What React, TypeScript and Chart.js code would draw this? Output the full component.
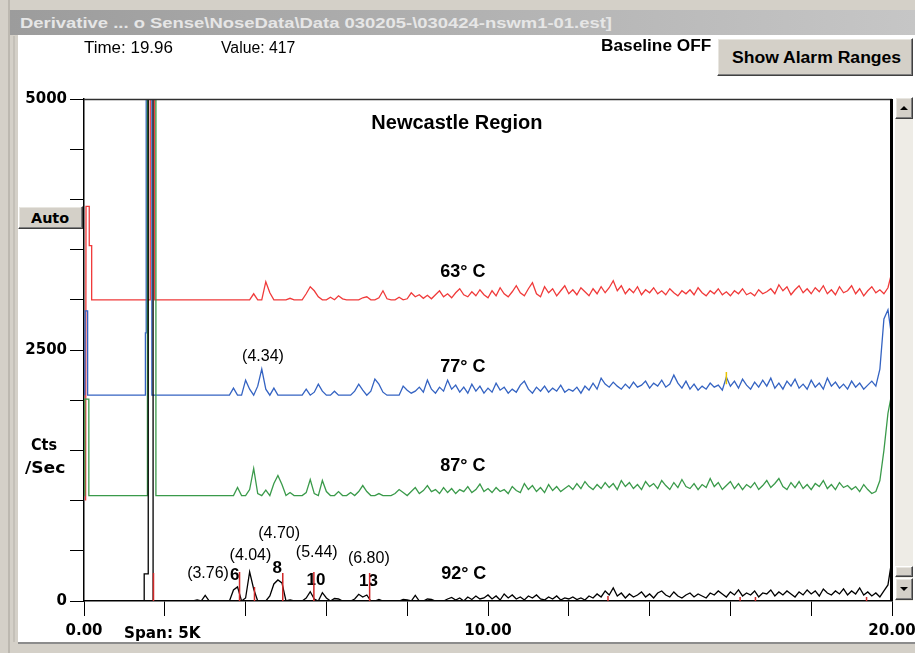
import React, { useEffect, useLayoutEffect, useRef } from "react";
import { Chart, registerables } from "chart.js";

Chart.register(...registerables);

// ---------- DATA ----------
// baseline (Cts/Sec) of each stacked trace
const RED_BASE = 3000;
const BLUE_BASE = 2050;
const GREEN_BASE = 1050;
const BLACK_BASE = 0;

// sampling grid of the main part of every trace (minutes)
const GRID_START = 2.0;
const GRID_STEP = 0.1;

// early part (injection + solvent peak): time / offset pairs
const redHeadTimes = [0.04, 0.05, 0.13, 0.13, 0.19, 0.19, 1.64, 1.64, 1.75, 1.75];
const redHeadValues = [-2000, 930, 930, 540, 540, 0, 0, 2300, 2300, 0];
const blueHeadTimes = [0.02, 0.03, 0.09, 0.09, 1.52, 1.52, 1.54, 1.54, 1.68, 1.68];
const blueHeadValues = [0, 840, 840, 0, 0, 620, 620, 3300, 3300, 0];
const greenHeadTimes = [0.01, 0.02, 0.12, 0.12, 1.57, 1.57, 1.78, 1.78];
const greenHeadValues = [0, 960, 960, 0, 0, 4300, 4300, 0];
const blackHeadTimes = [0, 1.49, 1.49, 1.59, 1.59, 1.71, 1.71];
const blackHeadValues = [0, 0, 270, 270, 5300, 5300, 0];

// 63 C trace, t = 2.0 ... 20.0 step 0.1
const redValues = [
  0, 0, 0, 0, 0, 0, 0, 0, 0, 0,
  0, 0, 0, 0, 0, 0, 0, 0, 0, 0,
  0, 0, 60, 0, 0, 180, 70, 0, 0, 0,
  0, 15, 0, 0, 0, 60, 130, 90, 30, 0,
  0, 25, 0, 40, 10, 0, 0, 0, 0, 20,
  30, 0, 0, 20, 90, 10, 0, 0, 25, 0,
  10, 70, 30, 50, 15, 45, 10, 50, 90, 30,
  60, 20, 70, 110, 50, 30, 80, 40, 100, 50,
  20, 90, 40, 120, 60, 30, 80, 140, 70, 40,
  110, 170, 60, 30, 130, 70, 110, 40, 90, 140,
  60, 100, 50, 120, 80, 40, 110, 60, 130, 70,
  120, 190, 90, 140, 60, 110, 70, 130, 50, 100,
  70, 120, 60, 90, 50, 110, 70, 40, 90, 60,
  100, 50, 120, 70, 40, 90, 60, 110, 50, 80,
  40, 90, 60, 110, 50, 70, 40, 100, 60, 80,
  110, 60, 150, 90, 130, 50, 100, 140, 70, 110,
  60, 120, 80, 140, 60, 100, 50, 130, 70, 90,
  140, 60, 110, 40, 90, 130, 70, 100, 60, 120,
  280,
];

// 77 C trace
const blueValues = [
  0, 0, 0, 0, 0, 0, 0, 0, 0, 0,
  0, 0, 0, 0, 0, 0, 0, 70, 0, 0,
  150, 60, 0, 90, 260, 60, 0, 70, 0, 0,
  0, 0, 0, 0, 0, 60, 0, 30, 110, 40,
  0, 0, 40, 0, 0, 0, 0, 40, 110, 50,
  0, 40, 160, 110, 30, 0, 0, 0, 0, 90,
  50, 20, 40, 80, 30, 150, 60, 20, 80, 40,
  150, 60, 100, 30, 80, 20, 110, 40, 90, 20,
  70, 30, 120, 50, 80, 20, 60, 30, 100, 140,
  60, 20, 80, 40, 90, 30, 70, 40, 100, 30,
  60, 40, 80, 20, 90, 50, 120, 60, 170, 110,
  80, 130, 90, 60, 110, 70, 130, 80, 100, 140,
  70, 120, 90, 150, 80, 110, 200, 120, 70, 140,
  60, 110, 50, 90, 60, 120, 80, 100, 50, 180,
  90, 140, 70, 160, 100, 60, 130, 80, 150, 90,
  170, 70, 120, 60, 140, 90, 160, 70, 110, 60,
  150, 80, 120, 60, 170, 90, 130, 70, 110, 60,
  140, 80, 120, 60, 100, 140, 90, 260, 760, 850,
  560,
];

// 87 C trace
const greenValues = [
  0, 0, 0, 0, 0, 0, 0, 0, 0, 0,
  0, 0, 0, 0, 0, 0, 0, 0, 80, 0,
  0, 60, 270, 20, 0, 55, 0, 120, 200, 110,
  0, 30, 0, 0, 0, 30, 160, 20, 0, 150,
  40, 0, 0, 40, 0, 0, 30, 0, 40, 100,
  40, 0, 0, 20, 0, 0, 0, 20, 60, 30,
  0, 40, 80, 20, 50, 100, 40, 60, 20, 80,
  30, 70, 20, 60, 40, 90, 30, 60, 115, 40,
  70, 30, 80, 40, 60, 20, 90, 50, 30, 120,
  60, 100, 40, 80, 30, 110, 50, 90, 40, 70,
  100, 60, 120, 70, 140, 90, 60, 110, 70, 130,
  80, 120, 60, 150, 90, 130, 70, 110, 60, 140,
  90, 120, 70, 150, 100, 60, 130, 80, 160, 90,
  70, 120, 60, 110, 80, 170, 90, 130, 60, 100,
  140, 70, 120, 60, 110, 80, 130, 60, 100, 150,
  80, 120, 170, 90, 60, 130, 80, 140, 70, 110,
  60, 120, 90, 150, 70, 110, 60, 130, 80, 100,
  60, 90, 40, 110, 60, 20, 40, 150, 450, 820,
  1030,
];

// 92 C trace
const blackValues = [
  0, 0, 0, 0, 0, 0, 0, 0, 10, 0,
  57, 0, 0, 0, 0, 0, 0, 110, 140, 0,
  30, 290, 120, 0, 0, 0, 50, 170, 210, 180,
  0, 10, 0, 0, 0, 30, 93, 20, 0, 83,
  30, 0, 25, 20, 0, 0, 0, 20, 67, 40,
  60, 0, 0, 15, 0, 0, 0, 0, 0, 15,
  10, 0, 57, 0, 0, 20, 15, 0, 0, 0,
  20, 35, 10, 30, 0, 40, 15, 50, 20, 30,
  60, 20, 50, 10, 70, 30, 60, 20, 40, 10,
  50, 30, 60, 20, 10, 40, 20, 50, 10, 30,
  20, 40, 15, 30, 10, 50, 30, 70, 40, 100,
  60, 130, 50, 80, 30, 70, 40, 60, 90, 40,
  70, 30, 80, 100, 60, 40, 90, 50, 30, 60,
  80, 40, 70, 50, 30, 80, 60, 100, 70, 40,
  90, 60, 110, 50, 80, 60, 100, 40, 80, 70,
  110, 50, 90, 60, 100, 70, 40, 90, 60, 110,
  70, 100, 50, 120, 80, 60, 100, 70, 120, 60,
  100, 70, 130, 60, 90, 50, 80, 40, 100, 160,
  420,
];

// red peak-marker lines on the 92 C trace
const markerTimes = [1.72, 3.85, 4.22, 4.92, 5.69, 7.07, 12.97, 16.24, 16.62, 19.37];
const markerHeights = [280, 290, 140, 280, 290, 280, 50, 40, 40, 40];
// yellow marks on the 77 C trace
const yellowTimes = [15.9, 19.99];
const yellowLow = [2160, 2500];
const yellowHigh = [2280, 2570];

// axis ticks
const X_LABELED_TICKS = [0, 10, 20];
const X_TICK_TEXT = ["0.00", "10.00", "20.00"];
const Y_LABELED_TICKS = [0, 2500, 5000];
const Y_TICK_TEXT = ["0", "2500", "5000"];

// in-plot annotations (anchored in data coordinates)
const REGION_TITLE = "Newcastle Region";
const REGION_T = 9.23;
const REGION_V = 4761;
const TEMP_LABELS = ["63° C", "77° C", "87° C", "92° C"];
const TEMP_T = [9.38, 9.38, 9.38, 9.4];
const TEMP_V = [3277, 2331, 1345, 269];
const PEAK_TIME_LABELS = ["(4.34)", "(3.76)", "(4.04)", "(4.70)", "(5.44)", "(6.80)"];
const PEAK_TIME_T = [4.43, 3.07, 4.12, 4.83, 5.76, 7.05];
const PEAK_TIME_V = [2430, 269, 448, 667, 478, 418];
const PEAK_NUMBERS = ["6", "8", "10", "13"];
const PEAK_NUM_T = [3.73, 4.78, 5.74, 7.04];
const PEAK_NUM_V = [259, 329, 209, 192];

// ---------- helpers ----------
type Pt = { x: number; y: number | null };

function buildSeries(headT: number[], headV: number[], grid: number[], base: number): Pt[] {
  const pts: Pt[] = headT.map((t, i) => ({ x: t, y: base + headV[i] }));
  grid.forEach((v, i) => {
    pts.push({ x: Math.round((GRID_START + i * GRID_STEP) * 100) / 100, y: base + v });
  });
  return pts;
}

function buildMarkers(times: number[], low: number[], high: number[]): Pt[] {
  const pts: Pt[] = [];
  times.forEach((t, i) => {
    pts.push({ x: t, y: low[i] }, { x: t, y: high[i] }, { x: t, y: null });
  });
  return pts;
}

function tickText(v: number, ticks: number[], texts: string[]) {
  const idx = ticks.findIndex((t) => Math.abs(t - v) < 1e-6);
  return idx >= 0 ? texts[idx] : "";
}

const SANS = '"Liberation Sans", Arial, sans-serif';
const AXIS_FONT = '"DejaVu Sans", Verdana, sans-serif';

const annotationPlugin = {
  id: "annotations",
  beforeDatasetsDraw(chart: any) {
    const { ctx, scales } = chart;
    const xs = scales.x;
    const ys = scales.y;
    ctx.save();
    ctx.fillStyle = "#000";
    ctx.textAlign = "center";
    ctx.textBaseline = "middle";
    ctx.font = `bold 20px ${SANS}`;
    ctx.fillText(REGION_TITLE, xs.getPixelForValue(REGION_T), ys.getPixelForValue(REGION_V));
    ctx.font = `bold 18px ${SANS}`;
    TEMP_LABELS.forEach((s, i) => ctx.fillText(s, xs.getPixelForValue(TEMP_T[i]), ys.getPixelForValue(TEMP_V[i])));
    ctx.font = `16px ${SANS}`;
    PEAK_TIME_LABELS.forEach((s, i) =>
      ctx.fillText(s, xs.getPixelForValue(PEAK_TIME_T[i]), ys.getPixelForValue(PEAK_TIME_V[i]))
    );
    ctx.font = `bold 17px ${SANS}`;
    PEAK_NUMBERS.forEach((s, i) => ctx.fillText(s, xs.getPixelForValue(PEAK_NUM_T[i]), ys.getPixelForValue(PEAK_NUM_V[i])));
    ctx.restore();
  },
  afterDraw(chart: any) {
    const { ctx, chartArea } = chart;
    ctx.save();
    ctx.strokeStyle = "#303030";
    ctx.lineWidth = 1.5;
    ctx.beginPath();
    ctx.moveTo(chartArea.left, chartArea.top + 0.5);
    ctx.lineTo(chartArea.right, chartArea.top + 0.5);
    ctx.stroke();
    ctx.fillStyle = "#000";
    ctx.fillRect(chartArea.right - 2, chartArea.top, 3, chartArea.bottom - chartArea.top);
    ctx.restore();
  },
};

function Fit(props: {
  text: string; x: number; y: number; w: number; h: number; font: string; color?: string; center?: boolean;
}) {
  const ref = useRef<HTMLSpanElement>(null);
  useLayoutEffect(() => {
    const el = ref.current;
    if (!el) return;
    el.style.transform = "none";
    const nat = el.offsetWidth;
    if (nat > 0) el.style.transform = `scaleX(${props.w / nat})`;
  }, [props.text, props.w, props.font]);
  return (
    <div
      style={{
        position: "absolute", left: props.x, top: props.y, width: props.w, height: props.h,
        display: "flex", alignItems: "center", justifyContent: props.center ? "center" : "flex-start",
        whiteSpace: "nowrap",
      }}
    >
      <span
        ref={ref}
        style={{
          display: "inline-block", font: props.font, color: props.color || "#000", lineHeight: 1,
          transformOrigin: props.center ? "center center" : "left center",
        }}
      >
        {props.text}
      </span>
    </div>
  );
}

const bevel: React.CSSProperties = {
  position: "absolute",
  background: "#d4d0c8",
  boxSizing: "border-box",
  borderTop: "1px solid #ffffff",
  borderLeft: "1px solid #ffffff",
  borderRight: "1px solid #404040",
  borderBottom: "1px solid #404040",
  boxShadow: "inset -1px -1px #808080, inset 1px 1px #e8e6e0",
};

export default function App() {
  const canvasRef = useRef<HTMLCanvasElement>(null);

  useEffect(() => {
    const canvas = canvasRef.current;
    if (!canvas) return;
    const chart = new Chart(canvas, {
      type: "line",
      data: {
        datasets: [
          { label: "markers", data: buildMarkers(markerTimes, markerTimes.map(() => 0), markerHeights), borderColor: "#d02828", borderWidth: 1.5, order: 0, spanGaps: false },
          { label: "yellow", data: buildMarkers(yellowTimes, yellowLow, yellowHigh), borderColor: "#e8c400", borderWidth: 1.5, order: 0, spanGaps: false },
          { label: "92° C", data: buildSeries(blackHeadTimes, blackHeadValues, blackValues, BLACK_BASE), borderColor: "#000000", order: 1 },
          { label: "87° C", data: buildSeries(greenHeadTimes, greenHeadValues, greenValues, GREEN_BASE), borderColor: "#3a9a4a", order: 2 },
          { label: "77° C", data: buildSeries(blueHeadTimes, blueHeadValues, blueValues, BLUE_BASE), borderColor: "#3463c2", order: 3 },
          { label: "63° C", data: buildSeries(redHeadTimes, redHeadValues, redValues, RED_BASE), borderColor: "#f03a3a", order: 4 },
        ] as any,
      },
      options: {
        responsive: false,
        animation: false,
        events: [],
        devicePixelRatio: 1,
        elements: { point: { radius: 0 }, line: { borderWidth: 1.3, tension: 0 } },
        layout: { padding: { left: 0, right: 48, top: 99, bottom: 0 } },
        plugins: { legend: { display: false }, tooltip: { enabled: false }, title: { display: false } },
        scales: {
          x: {
            type: "linear",
            min: 0,
            max: 20,
            afterFit: (s: any) => { s.height = 52; },
            ticks: {
              stepSize: 2, autoSkip: false, maxRotation: 0, color: "#000", padding: 6,
              font: { family: AXIS_FONT, size: 15, weight: "bold" },
              callback: (v: any) => tickText(Number(v), X_LABELED_TICKS, X_TICK_TEXT),
            },
            grid: { drawOnChartArea: false, drawTicks: true, tickLength: 15, color: "#000", lineWidth: 1 },
            border: { display: true, color: "#000", width: 1.5 },
          },
          y: {
            type: "linear",
            min: 0,
            max: 5000,
            afterFit: (s: any) => { s.width = 84; },
            ticks: {
              stepSize: 500, autoSkip: false, color: "#000", padding: 3,
              font: { family: AXIS_FONT, size: 15, weight: "bold" },
              callback: (v: any) => tickText(Number(v), Y_LABELED_TICKS, Y_TICK_TEXT),
            },
            grid: { drawOnChartArea: false, drawTicks: true, tickLength: 14, color: "#000", lineWidth: 1 },
            border: { display: true, color: "#000", width: 1.5 },
          },
        },
      } as any,
      plugins: [annotationPlugin],
    });
    return () => chart.destroy();
  }, []);

  return (
    <div style={{ position: "fixed", left: 0, top: 0, width: 915, height: 653, overflow: "hidden", background: "#d4d0c8" }}>
      {/* window frame lines */}
      <div style={{ position: "absolute", left: 8, top: 0, width: 2, height: 653, background: "#bcb8b0" }} />
      <div style={{ position: "absolute", left: 13, top: 36, width: 2, height: 606, background: "#c4c0b8" }} />
      {/* title bar */}
      <div style={{ position: "absolute", left: 10, top: 10, width: 905, height: 25, background: "linear-gradient(to right, #9c9c9c, #c6c6c6)" }} />
      <Fit text={"Derivative ... o Sense\\NoseData\\Data 030205-\\030424-nswm1-01.est]"} x={20} y={10} w={592} h={25} font={`bold 15px ${SANS}`} color="#e6e6e6" />
      {/* white client area */}
      <div style={{ position: "absolute", left: 18, top: 35, width: 897, height: 607, background: "#ffffff" }} />
      <div style={{ position: "absolute", left: 18, top: 642, width: 897, height: 2, background: "#8c8c8c" }} />
      {/* chart */}
      <canvas ref={canvasRef} width={940} height={653} style={{ position: "absolute", left: 0, top: 0, width: 940, height: 653 }} />
      {/* header texts */}
      <Fit text="Time:  19.96" x={84} y={38} w={89} h={20} font={`16px ${SANS}`} />
      <Fit text="Value:  417" x={221} y={38} w={74} h={20} font={`16px ${SANS}`} />
      <Fit text="Baseline OFF" x={601} y={36} w={110} h={20} font={`bold 16px ${SANS}`} />
      <div style={{ ...bevel, left: 717, top: 38, width: 196, height: 38 }} />
      <Fit text="Show Alarm Ranges" x={732} y={48} w={169} h={20} font={`bold 16px ${SANS}`} />
      {/* Auto button */}
      <div style={{ ...bevel, left: 18, top: 206, width: 65, height: 23 }} />
      <Fit text="Auto" x={31} y={207} w={38} h={21} font={`bold 14px ${AXIS_FONT}`} />
      {/* axis captions */}
      <Fit text="Cts" x={31} y={436} w={26} h={18} font={`bold 15px ${AXIS_FONT}`} />
      <Fit text="/Sec" x={25} y={459} w={40} h={18} font={`bold 15px ${AXIS_FONT}`} />
      <Fit text="Span: 5K" x={124} y={624} w={77} h={18} font={`bold 15px ${AXIS_FONT}`} />
      {/* scrollbar */}
      <div style={{ position: "absolute", left: 895, top: 97, width: 18, height: 504, background: "#eeece6" }} />
      <div style={{ ...bevel, left: 895, top: 97, width: 18, height: 22 }}>
        <div style={{ position: "absolute", left: 4, top: 8, width: 0, height: 0, borderLeft: "4px solid transparent", borderRight: "4px solid transparent", borderBottom: "4px solid #000" }} />
      </div>
      <div style={{ ...bevel, left: 895, top: 566, width: 18, height: 11 }} />
      <div style={{ ...bevel, left: 895, top: 578, width: 18, height: 22 }}>
        <div style={{ position: "absolute", left: 4, top: 8, width: 0, height: 0, borderLeft: "4px solid transparent", borderRight: "4px solid transparent", borderTop: "4px solid #000" }} />
      </div>
    </div>
  );
}
